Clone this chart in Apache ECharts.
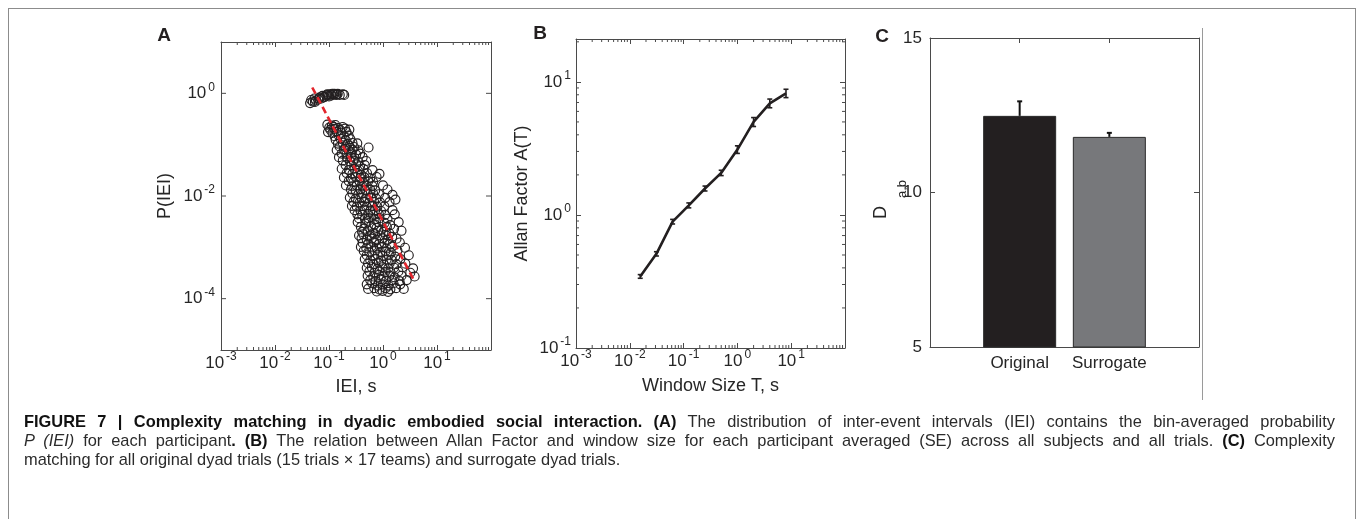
<!DOCTYPE html>
<html>
<head>
<meta charset="utf-8">
<script src="https://cdn.jsdelivr.net/npm/echarts@6/dist/echarts.min.js"></script>
<style>
  html, body { margin: 0; padding: 0; background: #fff; }
  #wrap { position: relative; width: 1357px; height: 519px; overflow: hidden; }
  #chart { position: absolute; left: 0; top: 0; width: 1357px; height: 519px; }
  #frame { position: absolute; left: 8px; top: 8px; width: 1348px; height: 600px; border: 1px solid #8c8c8c; box-sizing: border-box; }
  #caption { position: absolute; left: 24px; top: 412px; width: 1311px; font: 16.4px/19px "Liberation Sans", Arial, sans-serif; color: #2b2b2b; }
  #caption .ln { text-align: justify; text-align-last: justify; white-space: nowrap; }
  #caption .ln.last { text-align: left; text-align-last: left; }
  #caption b { color: #111; }
</style>
</head>
<body>
<div id="wrap">
  <div id="frame"></div>
  <div id="chart"></div>
  <div id="caption">
    <div class="ln"><b>FIGURE 7 | Complexity matching in dyadic embodied social interaction. (A)</b> The distribution of inter-event intervals (IEI) contains the bin-averaged probability</div>
    <div class="ln"><i>P (IEI)</i> for each participant<b>. (B)</b> The relation between Allan Factor and window size for each participant averaged (SE) across all subjects and all trials. <b>(C)</b> Complexity</div>
    <div class="ln last">matching for all original dyad trials (15 trials × 17 teams) and surrogate dyad trials.</div>
  </div>
</div>
<script>
// A: inter-event intervals (s) vs P(IEI)
const ieiPoints = [
  // short-interval cluster near P = 1
  [0.0447, 0.646], [0.0468, 0.741], [0.0501, 0.692], [0.0537, 0.794], [0.055, 0.68], [0.0575, 0.724],
  [0.0631, 0.759], [0.065, 0.8], [0.0676, 0.832], [0.0724, 0.794], [0.0759, 0.891], [0.079, 0.83],
  [0.0832, 0.851], [0.0891, 0.912], [0.093, 0.96], [0.0955, 0.933], [0.1, 0.871], [0.107, 0.955],
  [0.112, 0.912], [0.115, 0.98], [0.12, 0.955], [0.126, 0.977], [0.135, 0.933], [0.14, 0.95],
  [0.145, 0.977], [0.158, 0.933], [0.18, 0.96], [0.191, 0.933],
  // main cloud
  [0.0933, 0.245], [0.113, 0.236], [0.131, 0.242],
  [0.101, 0.215], [0.121, 0.222], [0.147, 0.213], [0.179, 0.221],
  [0.106, 0.196], [0.124, 0.203], [0.16, 0.194], [0.198, 0.205], [0.238, 0.197],
  [0.096, 0.176], [0.116, 0.17], [0.139, 0.178], [0.168, 0.171], [0.21, 0.177],
  [0.127, 0.146], [0.152, 0.151], [0.189, 0.144], [0.231, 0.15],
  [0.133, 0.124], [0.165, 0.129], [0.203, 0.123], [0.249, 0.128],
  [0.146, 0.105], [0.18, 0.109], [0.221, 0.104], [0.272, 0.108], [0.334, 0.106],
  [0.157, 0.092], [0.202, 0.089], [0.238, 0.094], [0.29, 0.09], [0.54, 0.088],
  [0.139, 0.078], [0.189, 0.081], [0.231, 0.077], [0.273, 0.08], [0.35, 0.078],
  [0.172, 0.067], [0.211, 0.065], [0.26, 0.068], [0.319, 0.064], [0.377, 0.067],
  [0.153, 0.057], [0.217, 0.055], [0.254, 0.058], [0.299, 0.055], [0.42, 0.057],
  [0.18, 0.049], [0.243, 0.047], [0.285, 0.049], [0.35, 0.046], [0.49, 0.048],
  [0.203, 0.04], [0.26, 0.039], [0.32, 0.041], [0.376, 0.038], [0.46, 0.04],
  [0.172, 0.034], [0.232, 0.032], [0.298, 0.034], [0.367, 0.033], [0.433, 0.034], [0.64, 0.032],
  [0.212, 0.028], [0.272, 0.027], [0.335, 0.028], [0.394, 0.026], [0.505, 0.028], [0.86, 0.027],
  [0.189, 0.023], [0.254, 0.022], [0.312, 0.0235], [0.384, 0.0225], [0.452, 0.023], [0.58, 0.0222], [0.76, 0.0234],
  [0.232, 0.0195], [0.284, 0.0187], [0.367, 0.0193], [0.432, 0.0186], [0.53, 0.0194], [0.655, 0.0188],
  [0.206, 0.016], [0.267, 0.0155], [0.327, 0.0161], [0.421, 0.0154], [0.496, 0.016], [0.637, 0.0156], [1.0, 0.0161],
  [0.255, 0.0134], [0.312, 0.0129], [0.385, 0.0135], [0.473, 0.013], [0.58, 0.0133], [0.717, 0.0129], [1.21, 0.0134],
  [0.272, 0.0112], [0.351, 0.0108], [0.412, 0.0111], [0.531, 0.0107], [0.655, 0.0112], [0.84, 0.0108], [1.5, 0.0105],
  [0.243, 0.0093], [0.312, 0.0089], [0.403, 0.0092], [0.474, 0.0089], [0.61, 0.0093], [0.75, 0.0089], [1.1, 0.0092], [1.7, 0.0085],
  [0.284, 0.0077], [0.368, 0.0074], [0.452, 0.0077], [0.556, 0.0074], [0.685, 0.0077], [0.88, 0.0075], [1.32, 0.0076],
  [0.266, 0.0064], [0.327, 0.0062], [0.423, 0.0064], [0.495, 0.0062], [0.638, 0.0064], [0.786, 0.0062], [1.06, 0.0063],
  [0.298, 0.0053], [0.385, 0.0051], [0.452, 0.0054], [0.582, 0.0052], [0.716, 0.0053], [0.921, 0.0051], [1.5, 0.0053],
  [0.335, 0.0044], [0.412, 0.0043], [0.531, 0.0045], [0.654, 0.0043], [0.84, 0.0044], [1.09, 0.0043], [1.65, 0.0044],
  [0.359, 0.0037], [0.462, 0.0036], [0.545, 0.0037], [0.7, 0.0035], [0.862, 0.0037], [1.21, 0.0036],
  [0.34, 0.0031], [0.47, 0.0029], [0.54, 0.0033], [0.7, 0.0028], [0.82, 0.0031], [1.07, 0.003], [1.36, 0.0027], [1.95, 0.0031],
  [0.39, 0.0025], [0.45, 0.0023], [0.6, 0.0026], [0.76, 0.0024], [0.93, 0.0022], [1.18, 0.0025], [1.6, 0.0023],
  [0.41, 0.002], [0.52, 0.0021], [0.66, 0.0019], [0.81, 0.0021], [1.02, 0.002], [1.3, 0.0019], [2.2, 0.0021],
  [0.36, 0.0017], [0.43, 0.0018], [0.57, 0.00165], [0.71, 0.0018], [0.88, 0.0017], [1.12, 0.00175], [1.48, 0.0016],
  [0.4, 0.0015], [0.5, 0.0014], [0.62, 0.00148], [0.75, 0.00138], [0.97, 0.0015], [1.22, 0.0014], [1.78, 0.00147],
  [0.42, 0.00122], [0.53, 0.00118], [0.68, 0.00125], [0.84, 0.00115], [1.06, 0.00121], [1.35, 0.00117], [2.05, 0.00124],
  [0.39, 0.00102], [0.49, 0.00096], [0.61, 0.00104], [0.77, 0.00098], [0.95, 0.00101], [1.16, 0.00095], [1.47, 0.00103], [2.55, 0.00098],
  [0.44, 0.00085], [0.56, 0.0008], [0.7, 0.00087], [0.89, 0.00081], [1.11, 0.00084], [1.4, 0.00079], [1.85, 0.00086],
  [0.5, 0.0007], [0.64, 0.00067], [0.8, 0.00072], [0.99, 0.00068], [1.28, 0.0007], [1.68, 0.00066], [3.0, 0.0007],
  [0.46, 0.00059], [0.58, 0.00056], [0.73, 0.0006], [0.92, 0.00055], [1.17, 0.00058], [1.44, 0.00057], [2.1, 0.00059],
  [0.53, 0.00049], [0.67, 0.00047], [0.83, 0.0005], [1.04, 0.00046], [1.33, 0.00049], [1.76, 0.00047], [2.6, 0.00048],
  [0.5, 0.0004], [0.62, 0.00041], [0.79, 0.00038], [0.98, 0.00041], [1.25, 0.00039], [1.6, 0.0004], [2.3, 0.00041], [3.6, 0.00039],
  [0.56, 0.00034], [0.7, 0.00032], [0.86, 0.00034], [1.09, 0.00033], [1.39, 0.00032], [1.93, 0.00034], [3.2, 0.00032],
  [0.52, 0.00028], [0.66, 0.00027], [0.84, 0.00029], [1.03, 0.00027], [1.31, 0.00028], [1.64, 0.00026], [2.2, 0.00028], [3.85, 0.00027],
  [0.58, 0.00023], [0.73, 0.00022], [0.9, 0.00024], [1.14, 0.00022], [1.47, 0.00023], [2.02, 0.00022], [2.75, 0.00023],
  [0.5, 0.00019], [0.63, 0.0002], [0.8, 0.00018], [0.99, 0.00019], [1.27, 0.00018], [1.56, 0.0002], [2.08, 0.00019],
  [0.53, 0.000155], [0.69, 0.00016], [0.87, 0.00015], [1.12, 0.00016], [1.37, 0.000152], [1.75, 0.00016], [2.42, 0.000155],
  [0.77, 0.000138], [0.98, 0.000142], [1.24, 0.000136]
];
// A: power-law fit (red dashed), end points
const fitX = [0.049, 3.9];
const fitY = [1.3, 0.00021];

// B: Allan factor vs window size
const windowT = [0.015625, 0.03125, 0.0625, 0.125, 0.25, 0.5, 1, 2, 4, 8];
const allanA = [0.345, 0.51, 0.89, 1.18, 1.58, 2.07, 3.1, 5.0, 6.9, 8.2];
const allanSE = [0.005, 0.01, 0.02, 0.03, 0.04, 0.06, 0.15, 0.3, 0.4, 0.45];

// C: complexity matching
const barCats = ['Original', 'Surrogate'];
const barMean = [12.48, 11.8];
const barSE = [0.47, 0.13];
const barColors = ['#231f20', '#77787b'];

const font = '"Liberation Sans", Arial, Helvetica, sans-serif';
const ink = '#262626';
const boxColor = '#4a4a4a';

const supRich = {
  sup: { fontSize: 12, lineHeight: 12, verticalAlign: 'top', padding: [0, 0, 0, 2], fontFamily: font, color: ink }
};

function powLabel(maxExp, step) {
  return function (v) {
    const l = Math.log10(v);
    const e = Math.round(l);
    if (Math.abs(l - e) > 1e-6 || e > maxExp || e % step !== 0) return '';
    return '10{sup|' + e + '}';
  };
}

function makeAxis(type, gridIndex, pos, extra) {
  const ax = {
    type: type,
    gridIndex: gridIndex,
    position: pos,
    nameMoveOverlap: false,
    axisLine: { show: true, onZero: false, lineStyle: { color: boxColor, width: 1 } },
    axisTick: { show: true, inside: true, length: 5, lineStyle: { color: boxColor, width: 1 } },
    splitLine: { show: false },
    axisLabel: { show: false },
    nameTextStyle: { fontSize: 18, lineHeight: 20, fontFamily: font, color: ink }
  };
  if (type === 'log') ax.logBase = 10;
  return Object.assign(ax, extra);
}

function tickLabel(formatter, margin) {
  return { show: true, formatter: formatter, rich: supRich, fontSize: 17, lineHeight: 24, margin: margin, fontFamily: font, color: ink, hideOverlap: false };
}

// minor / selected ticks drawn on the box edges (log axes)
function decadeTicks(e0, e1, maxV) {
  const out = [];
  for (let e = e0; e <= e1; e++) {
    for (let m = 2; m <= 9; m++) {
      const v = m * Math.pow(10, e);
      if (v < maxV) out.push(v);
    }
  }
  return out;
}

function tickFrame(axisIdx, xTicks, yTicks, xExt, yExt) {
  return {
    type: 'custom',
    xAxisIndex: axisIdx,
    yAxisIndex: axisIdx,
    silent: true,
    clip: false,
    z: 5,
    data: [[xExt[0], yExt[0]]],
    renderItem: function (params, api) {
      const kids = [];
      const st = { stroke: boxColor, lineWidth: 1 };
      xTicks.forEach(function (t) {
        const b = api.coord([t.v, yExt[0]]);
        const tp = api.coord([t.v, yExt[1]]);
        kids.push({ type: 'line', shape: { x1: b[0], y1: b[1], x2: b[0], y2: b[1] - t.len }, style: st });
        kids.push({ type: 'line', shape: { x1: tp[0], y1: tp[1], x2: tp[0], y2: tp[1] + t.len }, style: st });
      });
      yTicks.forEach(function (t) {
        const l = api.coord([xExt[0], t.v]);
        const r = api.coord([xExt[1], t.v]);
        kids.push({ type: 'line', shape: { x1: l[0], y1: l[1], x2: l[0] + t.len, y2: l[1] }, style: st });
        kids.push({ type: 'line', shape: { x1: r[0], y1: r[1], x2: r[0] - t.len, y2: r[1] }, style: st });
      });
      return { type: 'group', children: kids };
    }
  };
}

const minorX = decadeTicks(-3, 1, 100).map(v => ({ v: v, len: 3 }));
const minorYB = decadeTicks(-1, 1, 21).map(v => ({ v: v, len: 3 }));
const majorYA = [1e-4, 1e-2, 1].map(v => ({ v: v, len: 5 }));

const chart = echarts.init(document.getElementById('chart'), null, { renderer: 'canvas' });

const option = {
  animation: false,
  backgroundColor: 'transparent',
  grid: [
    { left: 221, top: 42, width: 270, height: 308 },
    { left: 576, top: 39, width: 269, height: 309 },
    { left: 930, top: 38, width: 269, height: 309 }
  ],
  xAxis: [
    makeAxis('log', 0, 'bottom', { min: 0.001, max: 100, axisLabel: tickLabel(powLabel(1, 1), 1),
      name: 'IEI, s', nameLocation: 'middle', nameGap: 27 }),
    makeAxis('log', 0, 'top', { min: 0.001, max: 100 }),
    makeAxis('log', 1, 'bottom', { min: 0.001, max: 100, axisLabel: tickLabel(powLabel(1, 1), 1),
      name: 'Window Size T, s', nameLocation: 'middle', nameGap: 28 }),
    makeAxis('log', 1, 'top', { min: 0.001, max: 100 }),
    makeAxis('value', 2, 'bottom', { min: 0, max: 3, interval: 1,
      axisLabel: { show: true, formatter: v => barCats[v - 1] || '', fontSize: 17, lineHeight: 20, margin: 6, fontFamily: font, color: ink } }),
    makeAxis('value', 2, 'top', { min: 0, max: 3, interval: 1 })
  ],
  yAxis: [
    makeAxis('log', 0, 'left', { min: 0.00001, max: 10, axisTick: { show: false }, axisLabel: tickLabel(powLabel(1, 2), 6),
      name: 'P(IEI)', nameLocation: 'middle', nameGap: 46 }),
    makeAxis('log', 0, 'right', { min: 0.00001, max: 10, axisTick: { show: false } }),
    makeAxis('log', 1, 'left', { min: 0.1, max: 21, axisLabel: tickLabel(powLabel(1, 1), 5),
      name: 'Allan Factor A(T)', nameLocation: 'middle', nameGap: 44 }),
    makeAxis('log', 1, 'right', { min: 0.1, max: 21 }),
    makeAxis('value', 2, 'left', { min: 5, max: 15, interval: 5,
      axisLabel: { show: true, fontSize: 17, margin: 8, fontFamily: font, color: ink },
      name: '{d|D}{sub|a,b}', nameLocation: 'middle', nameGap: 38,
      nameTextStyle: {
        fontFamily: font, color: ink,
        rich: {
          d: { fontSize: 18, lineHeight: 20, verticalAlign: 'top', fontFamily: font, color: ink },
          sub: { fontSize: 13, lineHeight: 14, verticalAlign: 'top', padding: [24, 14, 0, 8], fontFamily: font, color: ink }
        }
      } }),
    makeAxis('value', 2, 'right', { min: 5, max: 15, interval: 5 })
  ],
  graphic: [
    { type: 'text', x: 164, y: 36, style: { text: 'A', font: 'bold 19px ' + font, fill: '#231f20', align: 'center', verticalAlign: 'middle' } },
    { type: 'text', x: 540, y: 34, style: { text: 'B', font: 'bold 19px ' + font, fill: '#231f20', align: 'center', verticalAlign: 'middle' } },
    { type: 'text', x: 882, y: 37, style: { text: 'C', font: 'bold 19px ' + font, fill: '#231f20', align: 'center', verticalAlign: 'middle' } },
    { type: 'line', shape: { x1: 1202.5, y1: 28, x2: 1202.5, y2: 400 }, style: { stroke: '#9a9a9a', lineWidth: 1 } }
  ],
  series: [
    {
      name: 'P(IEI)', type: 'scatter', xAxisIndex: 0, yAxisIndex: 0,
      symbol: 'circle', symbolSize: 9,
      itemStyle: { color: 'rgba(0,0,0,0)', borderColor: '#231f20', borderWidth: 1.15, opacity: 1 },
      data: ieiPoints, z: 2
    },
    {
      name: 'fit', type: 'line', xAxisIndex: 0, yAxisIndex: 0, showSymbol: false, symbol: 'none',
      lineStyle: { color: '#e3262d', width: 2.6, type: [7, 4] },
      data: fitX.map((x, i) => [x, fitY[i]]), z: 3
    },
    tickFrame(0, minorX, majorYA, [0.001, 100], [0.00001, 10]),
    {
      name: 'Allan factor', type: 'line', xAxisIndex: 2, yAxisIndex: 2, showSymbol: false, symbol: 'none',
      lineStyle: { color: '#231f20', width: 2.6 },
      data: windowT.map((t, i) => [t, allanA[i]]), z: 3
    },
    {
      name: 'Allan SE', type: 'custom', xAxisIndex: 2, yAxisIndex: 2, z: 4,
      encode: { x: 0, y: [1, 2] },
      data: windowT.map((t, i) => [t, allanA[i] - allanSE[i], allanA[i] + allanSE[i]]),
      renderItem: function (params, api) {
        const lo = api.coord([api.value(0), api.value(1)]);
        const hi = api.coord([api.value(0), api.value(2)]);
        const st = { stroke: '#231f20', lineWidth: 1.6 };
        return { type: 'group', children: [
          { type: 'line', shape: { x1: lo[0], y1: lo[1] + 1, x2: hi[0], y2: hi[1] - 1 }, style: st },
          { type: 'line', shape: { x1: lo[0] - 2.5, y1: lo[1] + 1, x2: lo[0] + 2.5, y2: lo[1] + 1 }, style: st },
          { type: 'line', shape: { x1: hi[0] - 2.5, y1: hi[1] - 1, x2: hi[0] + 2.5, y2: hi[1] - 1 }, style: st }
        ] };
      }
    },
    tickFrame(2, minorX, minorYB, [0.001, 100], [0.1, 21]),
    {
      name: 'D', type: 'bar', xAxisIndex: 4, yAxisIndex: 4, barWidth: 73, clip: true, z: 2,
      data: barMean.map((m, i) => ({
        value: [i + 1, m],
        itemStyle: { color: barColors[i], borderColor: '#2a2a2a', borderWidth: 1 }
      }))
    },
    {
      name: 'D SE', type: 'custom', xAxisIndex: 4, yAxisIndex: 4, z: 4,
      encode: { x: 0, y: [1, 2] },
      data: barMean.map((m, i) => [i + 1, m, m + barSE[i]]),
      renderItem: function (params, api) {
        const lo = api.coord([api.value(0), api.value(1)]);
        const hi = api.coord([api.value(0), api.value(2)]);
        const st = { stroke: '#111', lineWidth: 2 };
        return { type: 'group', children: [
          { type: 'line', shape: { x1: lo[0], y1: lo[1], x2: hi[0], y2: hi[1] }, style: st },
          { type: 'line', shape: { x1: hi[0] - 2.5, y1: hi[1], x2: hi[0] + 2.5, y2: hi[1] }, style: st }
        ] };
      }
    }
  ]
};

chart.setOption(option);
</script>
</body>
</html>
